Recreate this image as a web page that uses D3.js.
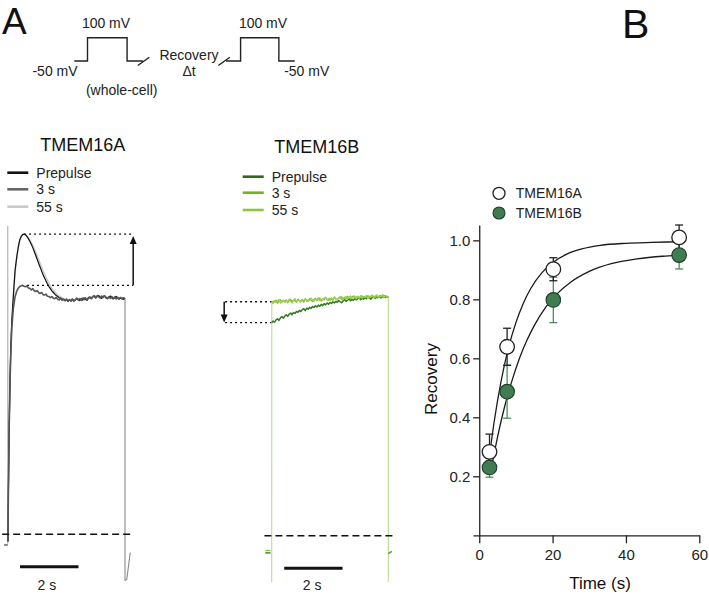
<!DOCTYPE html>
<html>
<head>
<meta charset="utf-8">
<script src="https://cdn.jsdelivr.net/npm/d3@7"></script>
<style>
  body { margin: 0; background: #fff; }
  svg { display: block; font-family: "Liberation Sans", Arial, sans-serif; }
</style>
</head>
<body>
<svg id="fig" width="709" height="595"></svg>
<script>
// ---------------- data ----------------

// voltage protocol (schematic units)
const protoTime1 = [0, 10, 10, 40, 40, 52];
const protoTime2 = [115, 126, 126, 155, 155, 167];
const protoVolt = [-50, -50, 100, 100, -50, -50];

// TMEM16A currents, normalised to steady state (time in s)
const aTime = [0, 0.01, 0.04, 0.07, 0.1, 0.13, 0.18, 0.24, 0.3, 0.35,
  0.4, 0.45, 0.5, 0.55, 0.6, 0.65, 0.7, 0.75, 0.8, 0.85,
  0.9, 0.95, 1.0, 1.05, 1.1, 1.15, 1.2, 1.25, 1.3, 1.35,
  1.4, 1.45, 1.5, 1.55, 1.6, 1.65, 1.7, 1.75, 1.8, 1.85,
  1.9, 1.95, 2.0, 2.05, 2.1, 2.15, 2.2, 2.25, 2.3, 2.35,
  2.4, 2.45, 2.5, 2.55, 2.6, 2.65, 2.7, 2.75, 2.8, 2.85,
  2.9, 2.95, 3.0, 3.05, 3.1, 3.15, 3.2, 3.25, 3.3, 3.35,
  3.4, 3.45, 3.5, 3.55, 3.6, 3.65, 3.7, 3.75, 3.8, 3.85,
  3.9, 3.95, 4.0];
const aPrepulse = [-0.03, 0.15, 0.45, 0.66, 0.80, 0.90, 1.00, 1.11, 1.17, 1.21,
  1.240, 1.255, 1.263, 1.265, 1.262, 1.255, 1.245, 1.234, 1.221, 1.207,
  1.191, 1.175, 1.158, 1.141, 1.125, 1.109, 1.094, 1.080, 1.067, 1.055,
  1.044, 1.035, 1.026, 1.019, 1.012, 1.006, 1.002, 0.997, 0.995, 0.991,
  0.990, 0.985, 0.990, 0.982, 0.988, 0.984, 0.991, 0.983, 0.987, 0.994,
  0.989, 0.985, 0.993, 0.987, 0.996, 0.990, 0.986, 0.995, 0.999, 0.993,
  1.001, 1.004, 0.996, 1.003, 1.006, 0.999, 0.994, 1.002, 1.005, 0.998,
  0.993, 0.999, 1.004, 0.996, 0.992, 0.998, 1.002, 0.995, 0.991, 0.997,
  0.993, 0.990, 0.995];
const a3s = [-0.03, 0.15, 0.45, 0.65, 0.78, 0.87, 0.95, 1.00, 1.025, 1.037,
  1.044, 1.047, 1.049, 1.045, 1.043, 1.046, 1.038, 1.036, 1.030, 1.035,
  1.026, 1.023, 1.027, 1.018, 1.015, 1.019, 1.010, 1.008, 1.012, 1.003,
  1.002, 0.997, 1.002, 0.995, 0.993, 0.998, 0.990, 0.988, 0.994, 0.986,
  0.990, 0.984, 0.990, 0.983, 0.988, 0.982, 0.990, 0.983, 0.988, 0.994,
  0.987, 0.993, 0.986, 0.995, 0.989, 0.996, 0.988, 0.997, 1.000, 0.993,
  1.002, 1.005, 0.996, 1.006, 1.001, 0.996, 1.004, 0.998, 1.005, 0.996,
  0.994, 1.001, 0.994, 1.002, 0.993, 1.000, 0.992, 0.999, 0.992, 0.998,
  0.992, 0.997, 0.993];
const a55s = [-0.03, 0.14, 0.44, 0.65, 0.79, 0.89, 0.99, 1.10, 1.165, 1.205,
  1.236, 1.252, 1.261, 1.264, 1.262, 1.257, 1.249, 1.240, 1.229, 1.217,
  1.203, 1.188, 1.173, 1.157, 1.141, 1.125, 1.110, 1.096, 1.082, 1.069,
  1.057, 1.046, 1.036, 1.028, 1.021, 1.014, 1.009, 1.004, 1.000, 0.996,
  0.993, 0.989, 0.994, 0.988, 0.991, 0.987, 0.993, 0.988, 0.990, 0.996,
  0.991, 0.988, 0.995, 0.990, 0.997, 0.992, 0.989, 0.996, 1.000, 0.995,
  1.002, 0.999, 1.004, 1.000, 1.006, 1.001, 0.997, 1.003, 1.005, 1.000,
  0.996, 1.001, 1.004, 0.998, 0.995, 1.000, 1.003, 0.997, 0.994, 0.999,
  0.996, 0.993, 0.996];
// holding level, capacitive spike and tail of TMEM16A
const aHoldTime = [-0.13, -0.01];
const aHold = [-0.045, -0.045];
const aSpikeTime = [-0.01, -0.01, 0];
const aSpike = [-0.045, 1.3, -0.03];
const aTailTime = [4.0, 4.0, 4.06, 4.18];
const aTail = [0.995, -0.195, -0.19, -0.077];

// TMEM16B currents
const bTime = [0, 0.05, 0.1, 0.15, 0.2, 0.25, 0.3, 0.35, 0.4, 0.45,
  0.5, 0.55, 0.6, 0.65, 0.7, 0.75, 0.8, 0.85, 0.9, 0.95,
  1.0, 1.05, 1.1, 1.15, 1.2, 1.25, 1.3, 1.35, 1.4, 1.45,
  1.5, 1.55, 1.6, 1.65, 1.7, 1.75, 1.8, 1.85, 1.9, 1.95,
  2.0, 2.05, 2.1, 2.15, 2.2, 2.25, 2.3, 2.35, 2.4, 2.45,
  2.5, 2.55, 2.6, 2.65, 2.7, 2.75, 2.8, 2.85, 2.9, 2.95,
  3.0, 3.05, 3.1, 3.15, 3.2, 3.25, 3.3, 3.35, 3.4, 3.45,
  3.5, 3.55, 3.6, 3.65, 3.7, 3.75, 3.8, 3.85, 3.9, 3.95,
  4.0];
const bPrepulse = [0.893, 0.899, 0.895, 0.904, 0.909, 0.902, 0.913, 0.918, 0.911, 0.920,
  0.926, 0.919, 0.928, 0.933, 0.926, 0.935, 0.931, 0.940, 0.936, 0.944,
  0.939, 0.947, 0.951, 0.943, 0.953, 0.949, 0.957, 0.952, 0.960, 0.956,
  0.963, 0.958, 0.966, 0.961, 0.969, 0.964, 0.972, 0.967, 0.975, 0.970,
  0.977, 0.973, 0.980, 0.975, 0.982, 0.978, 0.985, 0.980, 0.976, 0.984,
  0.989, 0.982, 0.987, 0.992, 0.984, 0.990, 0.986, 0.994, 0.988, 0.993,
  0.997, 0.989, 0.995, 0.991, 0.998, 0.993, 1.000, 0.995, 0.991, 0.999,
  1.002, 0.994, 1.000, 0.997, 1.004, 0.996, 1.001, 1.005, 0.998, 1.003,
  0.999];
const b3s = [0.976, 0.983, 0.979, 0.987, 0.974, 0.982, 0.989, 0.978, 0.985, 0.981,
  0.988, 0.976, 0.984, 0.990, 0.980, 0.987, 0.983, 0.978, 0.991, 0.985,
  0.982, 0.988, 0.979, 0.992, 0.986, 0.983, 0.993, 0.987, 0.981, 0.990,
  0.994, 0.985, 0.989, 0.996, 0.983, 0.992, 0.988, 0.997, 0.990, 0.986,
  0.995, 0.991, 0.987, 0.999, 0.993, 0.989, 0.997, 1.001, 0.990, 0.995,
  0.999, 0.992, 1.003, 0.996, 0.993, 1.000, 1.004, 0.995, 0.999, 1.003,
  0.994, 1.001, 1.005, 0.997, 1.002, 0.999, 1.006, 0.996, 1.003, 1.007,
  1.000, 0.997, 1.005, 1.002, 0.998, 1.007, 1.003, 0.999, 1.004, 1.001,
  0.998];
const b55s = [0.980, 0.972, 0.985, 0.976, 0.983, 0.990, 0.974, 0.981, 0.987, 0.977,
  0.984, 0.979, 0.991, 0.982, 0.975, 0.986, 0.993, 0.980, 0.988, 0.983,
  0.978, 0.990, 0.985, 0.994, 0.981, 0.989, 0.984, 0.996, 0.987, 0.982,
  0.992, 0.988, 0.997, 0.984, 0.991, 0.986, 0.995, 0.999, 0.988, 0.993,
  0.985, 0.996, 0.990, 1.001, 0.992, 0.987, 0.998, 0.993, 1.003, 0.989,
  0.996, 1.002, 0.991, 0.998, 1.005, 0.994, 0.999, 1.004, 0.992, 1.001,
  0.997, 1.006, 0.995, 1.002, 0.998, 1.007, 0.993, 1.003, 1.000, 1.008,
  0.996, 1.004, 1.009, 0.998, 1.005, 1.001, 1.010, 0.997, 1.006, 1.002,
  1.000];
const bHoldTime = [-0.22, -0.04];
const bHoldPre = [-0.072, -0.072];
const bHold55 = [-0.062, -0.062];
const bEdgeTime = [0, 0, 0.004];
const bEdge = [-0.062, -0.193, 0.98];
const bEndTime = [4.0, 4.0];
const bEnd = [1.0, -0.193];
const bTailTime = [4.0, 4.12];
const bTail = [-0.075, -0.066];

// panel B: recovery vs time
const recTime = [2.8, 7.6, 20.2, 54.5];
const recA = [0.283, 0.639, 0.902, 1.010];
const semA = [0.060, 0.063, 0.039, 0.042];
const recB = [0.230, 0.487, 0.798, 0.950];
const semB = [0.033, 0.090, 0.077, 0.047];
// exponential fits
const fitATime = [2.2, 4, 6, 8, 10, 12, 14, 17, 20, 24, 28, 33, 40, 47, 54];
const fitA = [0.210, 0.379, 0.525, 0.637, 0.721, 0.786, 0.836, 0.889, 0.924, 0.954, 0.971, 0.983, 0.990, 0.993, 0.995];
const fitBTime = [3.1, 5, 7, 9, 11, 13, 15, 18, 21, 25, 30, 36, 43, 50, 54];
const fitB = [0.213, 0.334, 0.440, 0.527, 0.601, 0.661, 0.711, 0.771, 0.816, 0.859, 0.895, 0.921, 0.937, 0.946, 0.949];
const xTicks = [0, 20, 40, 60];
const yTicks = [0.2, 0.4, 0.6, 0.8, 1.0];

// ---------------- drawing ----------------
const svg = d3.select("#fig");
const zip = (ts, vs) => ts.map((t, i) => [t, vs[i]]);

// panel letters
svg.append("text").attr("x", 2).attr("y", 34).attr("font-size", 37).attr("fill", "#111").text("A");
svg.append("text").attr("x", 622).attr("y", 38).attr("font-size", 41).attr("fill", "#111").text("B");

// ---- protocol schematic ----
const xP = d3.scaleLinear().domain([0, 167]).range([74.3, 294.7]);
const yP = d3.scaleLinear().domain([-50, 100]).range([61, 37.7]);
const pLine = d3.line().x(d => xP(d[0])).y(d => yP(d[1]));
const proto = svg.append("g").attr("fill", "none").attr("stroke", "#222").attr("stroke-width", 1.4);
proto.append("path").attr("d", pLine(zip(protoTime1, protoVolt)));
proto.append("path").attr("d", pLine(zip(protoTime2, protoVolt)));
// break marks
[[xP(52.5), yP(-50)], [xP(113.5), yP(-50)]].forEach(([cx, cy]) => {
  proto.append("line")
    .attr("x1", cx - 5.8).attr("y1", cy + 4.5)
    .attr("x2", cx + 5.8).attr("y2", cy - 3.8);
});
const pText = [
  ["100 mV", 106, 28], ["-50 mV", 55, 76], ["(whole-cell)", 121.7, 95],
  ["Recovery", 189, 60], ["\u0394t", 189, 76], ["100 mV", 263, 28], ["-50 mV", 306.7, 76]
];
svg.append("g").attr("font-size", 14).attr("text-anchor", "middle").attr("fill", "#222")
  .selectAll("text").data(pText).join("text")
  .attr("x", d => d[1]).attr("y", d => d[2]).text(d => d[0]);

// ---- trace panels ----
function legend(x0, y0s, labels, colors) {
  const g = svg.append("g");
  labels.forEach((lab, i) => {
    g.append("line").attr("x1", x0).attr("x2", x0 + 21).attr("y1", y0s[i]).attr("y2", y0s[i])
      .attr("stroke", colors[i]).attr("stroke-width", 2.6);
    g.append("text").attr("x", x0 + 29).attr("y", y0s[i]).attr("dy", "0.35em")
      .attr("font-size", 14).attr("fill", "#222").text(lab);
  });
}

function hLine(x1, x2, y, dash, w) {
  svg.append("line").attr("x1", x1).attr("x2", x2).attr("y1", y).attr("y2", y)
    .attr("stroke", "#111").attr("stroke-width", w).attr("stroke-dasharray", dash);
}

function arrow(x, yFrom, yTo) {
  const dir = yTo < yFrom ? -1 : 1;
  svg.append("line").attr("x1", x).attr("x2", x).attr("y1", yFrom).attr("y2", yTo - dir * 6)
    .attr("stroke", "#111").attr("stroke-width", 1.5);
  svg.append("path")
    .attr("d", `M${x},${yTo} L${x - 3.5},${yTo - dir * 8} L${x + 3.5},${yTo - dir * 8} Z`)
    .attr("fill", "#111");
}

// TMEM16A
const xA = d3.scaleLinear().domain([0, 4]).range([8, 125]);
const yA = d3.scaleLinear().domain([0, 1]).range([534.3, 297]);
const lineA = d3.line().x(d => xA(d[0])).y(d => yA(d[1]));

svg.append("text").attr("x", 82.7).attr("y", 151).attr("text-anchor", "middle")
  .attr("font-size", 18).attr("fill", "#111").text("TMEM16A");
legend(7.3, [172.7, 189.3, 206.7], ["Prepulse", "3 s", "55 s"], ["#111", "#666", "#c8c8c8"]);

const peakA = d3.max(aPrepulse), peakA3 = d3.max(a3s);
hLine(xA(0.55), xA(4.28), yA(peakA), "2,3", 1.3);
hLine(xA(0.65), xA(4.28), yA(peakA3), "2,3", 1.3);
arrow(xA(4.28), yA(peakA3), yA(peakA) + 2);

const trA = svg.append("g").attr("fill", "none").attr("stroke-linejoin", "round");
trA.append("path").attr("d", lineA(zip(aSpikeTime, aSpike))).attr("stroke", "#bbb").attr("stroke-width", 1);
trA.append("path").attr("d", lineA(zip(aTailTime, aTail))).attr("stroke", "#8a8a8a").attr("stroke-width", 1.1);
trA.append("path").attr("d", lineA(zip(aHoldTime, aHold))).attr("stroke", "#444").attr("stroke-width", 1.3);
trA.append("path").attr("d", lineA(zip(aTime, a55s))).attr("stroke", "#c8c8c8").attr("stroke-width", 1.5);
trA.append("path").attr("d", lineA(zip(aTime, aPrepulse))).attr("stroke", "#111").attr("stroke-width", 1.2);
trA.append("path").attr("d", lineA(zip(aTime, a3s))).attr("stroke", "#555").attr("stroke-width", 1.6);

hLine(xA(-0.2), xA(4.22), yA(0), "7,4", 1.4);
svg.append("line").attr("x1", xA(0.41)).attr("x2", xA(2.41)).attr("y1", 566.7).attr("y2", 566.7)
  .attr("stroke", "#111").attr("stroke-width", 3);
svg.append("text").attr("x", xA(1.33)).attr("y", 590).attr("text-anchor", "middle")
  .attr("font-size", 14).attr("fill", "#222").text("2 s");

// TMEM16B
const xB = d3.scaleLinear().domain([0, 4]).range([271.7, 388.3]);
const yB = d3.scaleLinear().domain([0, 1]).range([535.7, 297]);
const lineB = d3.line().x(d => xB(d[0])).y(d => yB(d[1]));

svg.append("text").attr("x", 316.7).attr("y", 153.3).attr("text-anchor", "middle")
  .attr("font-size", 18).attr("fill", "#111").text("TMEM16B");
legend(242.7, [176.7, 192.7, 210], ["Prepulse", "3 s", "55 s"], ["#2d6a1f", "#72b22a", "#8cc63f"]);

hLine(xB(-1.6), xB(0), yB(b55s[0]), "2,3", 1.3);
hLine(xB(-1.6), xB(0), yB(bPrepulse[0]), "2,3", 1.3);
arrow(xB(-1.63), yB(b55s[0]), yB(bPrepulse[0]));

const trB = svg.append("g").attr("fill", "none").attr("stroke-linejoin", "round");
trB.append("path").attr("d", lineB(zip(bEdgeTime, bEdge))).attr("stroke", "#b8dc90").attr("stroke-width", 1.1);
trB.append("path").attr("d", lineB(zip(bEndTime, bEnd))).attr("stroke", "#b8dc90").attr("stroke-width", 1.1);
trB.append("path").attr("d", lineB(zip(bHoldTime, bHoldPre))).attr("stroke", "#3d7f25").attr("stroke-width", 1.4);
trB.append("path").attr("d", lineB(zip(bHoldTime, bHold55))).attr("stroke", "#8cc63f").attr("stroke-width", 1.4);
trB.append("path").attr("d", lineB(zip(bTailTime, bTail))).attr("stroke", "#4f9a2c").attr("stroke-width", 1.4);
trB.append("path").attr("d", lineB(zip(bTime, bPrepulse))).attr("stroke", "#33791f").attr("stroke-width", 1.5);
trB.append("path").attr("d", lineB(zip(bTime, b3s))).attr("stroke", "#7ab833").attr("stroke-width", 1.3);
trB.append("path").attr("d", lineB(zip(bTime, b55s))).attr("stroke", "#9ccf52").attr("stroke-width", 1.3);

hLine(xB(-0.25), xB(4.23), yB(0), "7,4", 1.4);
svg.append("line").attr("x1", xB(0.43)).attr("x2", xB(2.43)).attr("y1", 568.3).attr("y2", 568.3)
  .attr("stroke", "#111").attr("stroke-width", 3);
svg.append("text").attr("x", xB(1.39)).attr("y", 589.5).attr("text-anchor", "middle")
  .attr("font-size", 14).attr("fill", "#222").text("2 s");

// ---- panel B: recovery plot ----
const x = d3.scaleLinear().domain([-1.7, 60]).range([473, 699.3]);
const y = d3.scaleLinear().domain([0, 1.052]).range([535.3, 225]);

const gx = svg.append("g").attr("transform", `translate(0,${y(0)})`)
  .call(d3.axisBottom(x).tickValues(xTicks).tickSize(8).tickSizeOuter(0).tickPadding(6));
const gy = svg.append("g").attr("transform", `translate(${x(0)},0)`)
  .call(d3.axisLeft(y).tickValues(yTicks).tickSize(6).tickSizeOuter(0).tickPadding(3).tickFormat(d3.format(".1f")));
[gx, gy].forEach(g => {
  g.selectAll("path, line").attr("stroke", "#222").attr("stroke-width", 1.3);
  g.selectAll("text").attr("font-size", 15).attr("fill", "#222")
    .attr("font-family", "'Liberation Sans', Arial, sans-serif");
});

svg.append("text").attr("x", 600).attr("y", 589).attr("text-anchor", "middle")
  .attr("font-size", 17).attr("fill", "#111").text("Time (s)");
svg.append("text").attr("transform", "translate(437,379) rotate(-90)").attr("text-anchor", "middle")
  .attr("font-size", 17).attr("fill", "#111").text("Recovery");

const fitLine = d3.line().x(d => x(d[0])).y(d => y(d[1])).curve(d3.curveMonotoneX);
svg.append("path").attr("d", fitLine(zip(fitATime, fitA)))
  .attr("fill", "none").attr("stroke", "#1a1a1a").attr("stroke-width", 1.3);
svg.append("path").attr("d", fitLine(zip(fitBTime, fitB)))
  .attr("fill", "none").attr("stroke", "#1a1a1a").attr("stroke-width", 1.3);

function errBars(vals, sems, color) {
  const g = svg.append("g").attr("stroke", color).attr("stroke-width", 1.3);
  recTime.forEach((t, i) => {
    const cx = x(t), lo = y(vals[i] - sems[i]), hi = y(vals[i] + sems[i]);
    g.append("line").attr("x1", cx).attr("x2", cx).attr("y1", lo).attr("y2", hi);
    g.append("line").attr("x1", cx - 4).attr("x2", cx + 4).attr("y1", lo).attr("y2", lo);
    g.append("line").attr("x1", cx - 4).attr("x2", cx + 4).attr("y1", hi).attr("y2", hi);
  });
}
errBars(recB, semB, "#4f8a5c");
errBars(recA, semA, "#222");

svg.append("g").selectAll("circle").data(zip(recTime, recA)).join("circle")
  .attr("cx", d => x(d[0])).attr("cy", d => y(d[1])).attr("r", 7.3)
  .attr("fill", "#fff").attr("stroke", "#222").attr("stroke-width", 1.3);
svg.append("g").selectAll("circle").data(zip(recTime, recB)).join("circle")
  .attr("cx", d => x(d[0])).attr("cy", d => y(d[1])).attr("r", 7.3)
  .attr("fill", "#3f7d50").attr("stroke", "#1f3d27").attr("stroke-width", 1.1);

// legend
const lg = svg.append("g");
lg.append("circle").attr("cx", 499).attr("cy", 193.3).attr("r", 6)
  .attr("fill", "#fff").attr("stroke", "#222").attr("stroke-width", 1.3);
lg.append("circle").attr("cx", 499).attr("cy", 213).attr("r", 6)
  .attr("fill", "#3f7d50").attr("stroke", "#1f3d27").attr("stroke-width", 1.1);
lg.append("text").attr("x", 515.7).attr("y", 193.3).attr("dy", "0.35em")
  .attr("font-size", 14).attr("fill", "#222").text("TMEM16A");
lg.append("text").attr("x", 515.7).attr("y", 213).attr("dy", "0.35em")
  .attr("font-size", 14).attr("fill", "#222").text("TMEM16B");
</script>
</body>
</html>
